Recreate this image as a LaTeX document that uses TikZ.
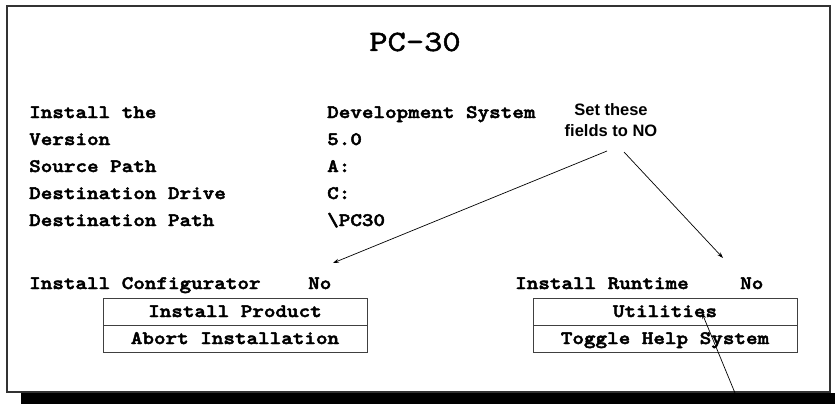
\documentclass[tikz,border=0pt]{standalone}
\usepackage{fontspec}
\setmainfont{Liberation Sans}
\newfontfamily\courbold{lmmonolt10-bold.otf}[FakeStretch=1.16, FakeBold=2.5]
\newfontfamily\courtitle{lmmono10-regular.otf}[FakeStretch=1.18, FakeBold=1.6]
\usetikzlibrary{arrows.meta}
\tikzset{
  lbl/.style={anchor=base west, inner sep=0pt, font=\courbold\fontsize{19}{23}\selectfont},
  menubox/.style={draw=black!75, line width=1pt, minimum width=264pt, minimum height=27pt, inner sep=0pt, text height=11pt, text depth=0pt, font=\courbold\fontsize{19}{23}\selectfont},
  note/.style={anchor=base, inner sep=0pt, font=\bfseries\fontsize{16.5}{20}\selectfont},
  pointer/.style={line width=0.7pt, -{Stealth[length=6pt,width=4pt]}},
}
\begin{document}
\begin{tikzpicture}[x=1pt,y=-1pt]
\useasboundingbox (0,0) rectangle (835,404);
% frame and shadow
\fill[black] (21,393) rectangle (835,404);
\draw[black!80, line width=1.6pt] (7,6) rectangle (830,392);
% title
\node[anchor=base, inner sep=0pt, font=\courtitle\fontsize{29.5}{34}\selectfont] (title) at (415,51) {PC-30};
% fields
\node[lbl] (f1) at (29,118) {Install the};
\node[lbl] (f2) at (29,145) {Version};
\node[lbl] (f3) at (29,172) {Source Path};
\node[lbl] (f4) at (29,199) {Destination Drive};
\node[lbl] (f5) at (29,226) {Destination Path};
\node[lbl] (v1) at (327,118) {Development System};
\node[lbl] (v2) at (327,145) {5.0};
\node[lbl] (v3) at (327,172) {A:};
\node[lbl] (v4) at (327,199) {C:};
\node[lbl] (v5) at (327,226) {\textbackslash PC30};
% options
\node[lbl] (c1) at (29,289) {Install Configurator};
\node[lbl] (c2) at (308,289) {No};
\node[lbl] (r1) at (515,289) {Install Runtime};
\node[lbl] (r2) at (740,289) {No};
% menu boxes
\node[menubox] (b1) at (235,311.5) {Install Product};
\node[menubox] (b2) at (235,338.5) {Abort Installation};
\node[menubox] (b3) at (665,311.5) {Utilities};
\node[menubox] (b4) at (665,338.5) {Toggle Help System};
% note
\node[note] (n1) at (611,115) {Set these};
\node[note] (n2) at (611,136) {fields to NO};
% connectors
\coordinate (s1) at (607,151);
\coordinate (t1) at (333,263);
\coordinate (s2) at (624,152);
\coordinate (t2) at (723,258);
\coordinate (s3) at (735,393);
\coordinate (t3) at (702,313);
\draw[pointer] (s1) -- (t1);
\draw[pointer] (s2) -- (t2);
\draw[pointer] (s3) -- (t3);
\end{tikzpicture}
\end{document}
